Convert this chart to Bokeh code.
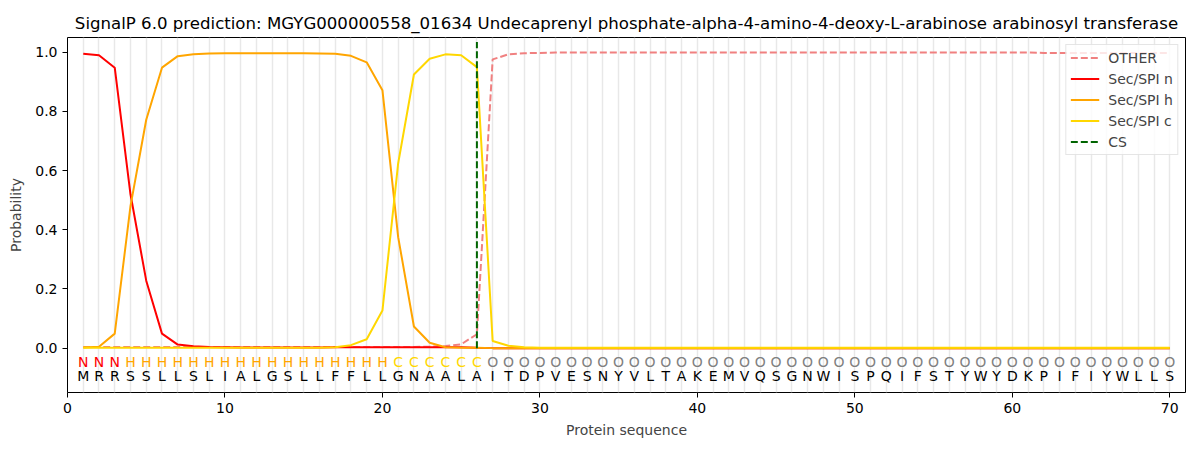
from bokeh.plotting import figure
from bokeh.models import ColumnDataSource, FixedTicker, Legend, LegendItem, Range1d
from bokeh.core.properties import value
from bokeh.embed import file_html
from bokeh.resources import INLINE

title = "SignalP 6.0 prediction: MGYG000000558_01634 Undecaprenyl phosphate-alpha-4-amino-4-deoxy-L-arabinose arabinosyl transferase"

sequence = list("MRRSSLLSLIALGSLLFFLLGNAALAITDPVESNYVLTAKEMVQSGNWISPQIFSTYWYDKPIFIYWLLS")
labels = list("NNNHHHHHHHHHHHHHHHHHCCCCCCOOOOOOOOOOOOOOOOOOOOOOOOOOOOOOOOOOOOOOOOOOOO")
positions = list(range(1, 71))

other = [0.004, 0.004, 0.004, 0.004, 0.004, 0.004, 0.004, 0.004, 0.004, 0.004,
         0.004, 0.004, 0.004, 0.004, 0.004, 0.004, 0.004, 0.004, 0.004, 0.004,
         0.004, 0.004, 0.005, 0.007, 0.013, 0.047, 0.976, 0.993, 0.997, 0.998,
         0.999, 0.999, 0.999, 0.999, 0.999, 0.999, 0.999, 0.999, 0.999, 0.999,
         0.999, 0.999, 0.999, 0.999, 0.999, 0.999, 0.999, 0.999, 0.999, 0.999,
         0.999, 0.999, 0.999, 0.999, 0.999, 0.999, 0.999, 0.999, 0.999, 0.999,
         0.999, 0.998, 0.998, 0.998, 0.998, 0.998, 0.998, 0.998, 0.998, 0.998]
sec_n = [0.995, 0.990, 0.948, 0.520, 0.228, 0.049, 0.012, 0.006, 0.004, 0.003,
         0.002, 0.002, 0.002, 0.002, 0.002, 0.002, 0.003, 0.003, 0.003, 0.003,
         0.003, 0.003, 0.003, 0.003, 0.003, 0.001, 0.000, 0.000, 0.000, 0.000,
         0.000, 0.000, 0.000, 0.000, 0.000, 0.000, 0.000, 0.000, 0.000, 0.000,
         0.000, 0.000, 0.000, 0.000, 0.000, 0.000, 0.000, 0.000, 0.000, 0.000,
         0.000, 0.000, 0.000, 0.000, 0.000, 0.000, 0.000, 0.000, 0.000, 0.000,
         0.000, 0.000, 0.000, 0.000, 0.000, 0.000, 0.000, 0.000, 0.000, 0.000]
sec_h = [0.002, 0.005, 0.049, 0.480, 0.772, 0.948, 0.987, 0.993, 0.996, 0.997,
         0.997, 0.997, 0.997, 0.997, 0.997, 0.996, 0.995, 0.988, 0.966, 0.872,
         0.375, 0.073, 0.018, 0.003, 0.001, 0.001, 0.000, 0.000, 0.000, 0.000,
         0.000, 0.000, 0.000, 0.000, 0.000, 0.000, 0.000, 0.000, 0.000, 0.000,
         0.000, 0.000, 0.000, 0.000, 0.000, 0.000, 0.000, 0.000, 0.000, 0.000,
         0.000, 0.000, 0.000, 0.000, 0.000, 0.000, 0.000, 0.000, 0.000, 0.000,
         0.000, 0.000, 0.000, 0.000, 0.000, 0.000, 0.000, 0.000, 0.000, 0.000]
sec_c = [0.001, 0.001, 0.001, 0.001, 0.001, 0.001, 0.001, 0.001, 0.001, 0.001,
         0.001, 0.001, 0.001, 0.001, 0.001, 0.001, 0.003, 0.010, 0.030, 0.127,
         0.625, 0.925, 0.978, 0.993, 0.990, 0.950, 0.024, 0.008, 0.003, 0.001,
         0.001, 0.001, 0.001, 0.001, 0.001, 0.001, 0.001, 0.001, 0.001, 0.001,
         0.001, 0.001, 0.001, 0.001, 0.001, 0.001, 0.001, 0.001, 0.001, 0.001,
         0.001, 0.001, 0.001, 0.001, 0.001, 0.001, 0.001, 0.001, 0.001, 0.001,
         0.001, 0.001, 0.001, 0.001, 0.001, 0.001, 0.001, 0.001, 0.001, 0.001]
cs_position = 26
cs_span = [0.0, 1.035]

label_colors = {"N": "#ff0000", "H": "#ffa500", "C": "#ffd700", "O": "#808080"}
label_row_y = -0.048
seq_row_y = -0.094

FONT = "DejaVu Sans"

p = figure(width=1200, height=450, output_backend="svg", toolbar_location=None,
           x_range=Range1d(0, 71), y_range=Range1d(-0.15, 1.05),
           min_border_left=67, min_border_right=15, min_border_top=37, min_border_bottom=58)

p.title.text = title
p.title.text_font = FONT
p.title.text_font_size = "16.6px"
p.title.text_font_style = "normal"
p.title.align = "center"
p.title.text_color = "black"

p.outline_line_color = "black"
p.outline_line_alpha = 1
p.outline_line_width = 1

p.xgrid.ticker = FixedTicker(ticks=positions)
p.xgrid.grid_line_color = "#e8e8e8"
p.xgrid.grid_line_width = 1.5
p.ygrid.grid_line_color = None

p.xaxis.ticker = FixedTicker(ticks=[0, 10, 20, 30, 40, 50, 60, 70])
p.yaxis.ticker = FixedTicker(ticks=[0.0, 0.2, 0.4, 0.6, 0.8, 1.0])
p.yaxis.major_label_overrides = {0.0: "0.0", 0.2: "0.2", 0.4: "0.4", 0.6: "0.6", 0.8: "0.8", 1.0: "1.0"}
for ax in (p.xaxis, p.yaxis):
    ax.axis_line_color = None
    ax.major_tick_in = 0
    ax.major_tick_out = 5
    ax.minor_tick_line_color = None
    ax.major_label_text_font = FONT
    ax.major_label_text_font_size = "14px"
    ax.major_label_text_color = "black"
    ax.axis_label_text_font = FONT
    ax.axis_label_text_font_size = "14px"
    ax.axis_label_text_font_style = "normal"
p.xaxis.axis_label = "Protein sequence"
p.yaxis.axis_label = "Probability"
p.xaxis.axis_label_standoff = 6
p.yaxis.axis_label_standoff = 8

src = ColumnDataSource(dict(x=positions, other=other, n=sec_n, h=sec_h, c=sec_c))
r_other = p.line("x", "other", source=src, line_color="#f08080", line_width=2, line_dash="7 3")
r_n = p.line("x", "n", source=src, line_color="#ff0000", line_width=2)
r_h = p.line("x", "h", source=src, line_color="#ffa500", line_width=2)
r_c = p.line("x", "c", source=src, line_color="#ffd700", line_width=2)
r_cs = p.line([cs_position, cs_position], cs_span, line_color="#006400", line_width=2, line_dash="7 3")

tsrc = ColumnDataSource(dict(
    x=positions,
    ly=[label_row_y] * len(positions),
    sy=[seq_row_y] * len(positions),
    lab=labels,
    seq=sequence,
    col=[label_colors[l] for l in labels],
))
p.text("x", "ly", text="lab", source=tsrc, text_color="col", text_align="center",
       text_baseline="middle", text_font=value(FONT), text_font_size="14px")
p.text("x", "sy", text="seq", source=tsrc, text_color="black", text_align="center",
       text_baseline="middle", text_font=value(FONT), text_font_size="14px")

legend = Legend(items=[
    LegendItem(label="OTHER", renderers=[r_other]),
    LegendItem(label="Sec/SPI n", renderers=[r_n]),
    LegendItem(label="Sec/SPI h", renderers=[r_h]),
    LegendItem(label="Sec/SPI c", renderers=[r_c]),
    LegendItem(label="CS", renderers=[r_cs]),
], location="top_right")
legend.label_text_font = FONT
legend.label_text_font_size = "14px"
legend.border_line_color = "#cccccc"
legend.border_line_width = 1
legend.background_fill_alpha = 0.8
legend.glyph_width = 29
legend.glyph_height = 17
legend.label_height = 17
legend.spacing = 4
legend.padding = 4
legend.margin = 7
legend.label_standoff = 9
p.add_layout(legend)

open("out.html", "w").write(file_html(p, INLINE))
